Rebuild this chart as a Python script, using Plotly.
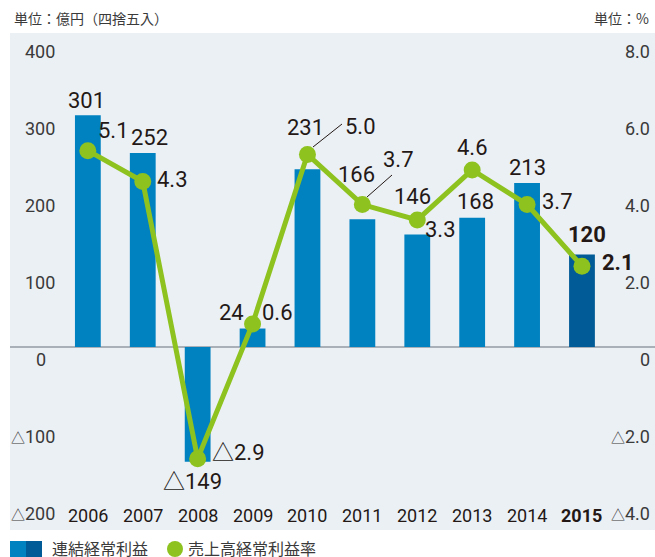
import plotly.graph_objects as go

years = ["2006", "2007", "2008", "2009", "2010", "2011", "2012", "2013", "2014", "2015"]
profit = [301, 252, -149, 24, 231, 166, 146, 168, 213, 120]
ratio = [5.1, 4.3, -2.9, 0.6, 5.0, 3.7, 3.3, 4.6, 3.7, 2.1]
left_ticks = [400, 300, 200, 100, 0, -100, -200]
right_ticks = [8.0, 6.0, 4.0, 2.0, 0, -2.0, -4.0]

BLUE = "#0081c0"
DARK = "#005b96"
GREEN = "#8dc21f"
TXT = "#231815"
FONT = "Liberation Sans Narrow, Roboto, Noto Sans CJK JP, sans-serif"
JFONT = "Noto Sans CJK JP, sans-serif"

L, R, T, B = 10, 655, 33, 530


def px_x(p):
    return (p - L) / (R - L)


def px_y(p):
    return (B - p) / (B - T)


def fmt(v, dec, small=False):
    s = f"{abs(v):.{dec}f}"
    if v < 0:
        tri = "<span style='font-size:14px'>△</span>" if small else "△"
        return tri + s
    return s


fig = go.Figure()
bar_colors = [BLUE] * (len(years) - 1) + [DARK]
fig.add_trace(go.Bar(x=years, y=profit, marker=dict(color=bar_colors, line=dict(width=0)),
                     width=0.47, name="連結経常利益", yaxis="y"))
fig.add_trace(go.Scatter(x=years, y=ratio, mode="lines+markers", yaxis="y2",
                         line=dict(color=GREEN, width=5),
                         marker=dict(color=GREEN, size=17), name="売上高経常利益率"))

ann = []
# left tick labels
for v in left_ticks:
    xa = px_x(48) if v == 0 else px_x(57)
    ann.append(dict(xref="paper", yref="y", x=xa, y=v, text=fmt(v, 0, True), showarrow=False,
                    xanchor="right", yanchor="middle", yshift=-12,
                    font=dict(family=FONT, size=18, color="#3a3a3a")))
for v in right_ticks:
    ann.append(dict(xref="paper", yref="y2", x=px_x(652), y=v,
                    text=("0" if v == 0 else fmt(v, 1, True)), showarrow=False,
                    xanchor="right", yanchor="middle", yshift=-12,
                    font=dict(family=FONT, size=18, color="#3a3a3a")))
# x labels
for i, yr in enumerate(years):
    t = f"<b>{yr}</b>" if i == len(years) - 1 else yr
    ann.append(dict(xref="x", yref="paper", x=i, y=px_y(515), text=t, showarrow=False,
                    xanchor="center", yanchor="middle",
                    font=dict(family=FONT, size=18, color=TXT)))

# bar labels offsets (xshift, yshift)
bar_off = [(-1, 15), (7, 15), (-5, -20), (-21, 16), (-2, 42), (-6, 45), (-5, 38), (3, 16), (0, 15), (5, 20)]
for i, v in enumerate(profit):
    t = fmt(v, 0)
    if i == len(years) - 1:
        t = f"<b>{t}</b>"
    ann.append(dict(xref="x", yref="y", x=i, y=v, text=t, showarrow=False,
                    xanchor="center", yanchor="middle", xshift=bar_off[i][0], yshift=bar_off[i][1],
                    font=dict(family=FONT, size=22, color=TXT)))
line_off = [(26, 20), (30, 2), (41, 6), (25, 11), (53, 28), (36, 45), (23, -10), (0, 22), (30, 3), (36, 4)]
for i, v in enumerate(ratio):
    t = fmt(v, 1)
    if i == len(years) - 1:
        t = f"<b>{t}</b>"
    ann.append(dict(xref="x", yref="y2", x=i, y=v, text=t, showarrow=False,
                    xanchor="center", yanchor="middle", xshift=line_off[i][0], yshift=line_off[i][1],
                    font=dict(family=FONT, size=22, color=TXT)))

# units
ann.append(dict(xref="paper", yref="paper", x=px_x(12), y=px_y(18), text="単位：億円（四捨五入）",
                showarrow=False, xanchor="left", yanchor="middle",
                font=dict(family=JFONT, size=14, color="#3a3a3a")))
ann.append(dict(xref="paper", yref="paper", x=px_x(651), y=px_y(18), text="単位：%",
                showarrow=False, xanchor="right", yanchor="middle",
                font=dict(family=JFONT, size=14, color="#3a3a3a")))
# legend texts
ann.append(dict(xref="paper", yref="paper", x=px_x(50), y=px_y(548), text="連結経常利益",
                showarrow=False, xanchor="left", yanchor="middle",
                font=dict(family=JFONT, size=16, color="#3a3a3a")))
ann.append(dict(xref="paper", yref="paper", x=px_x(186), y=px_y(548), text="売上高経常利益率",
                showarrow=False, xanchor="left", yanchor="middle",
                font=dict(family=JFONT, size=16, color="#3a3a3a")))

shapes = [
    dict(type="line", xref="paper", yref="y", x0=0, x1=1, y0=0, y1=0,
         line=dict(color="#a9b0b8", width=2), layer="below"),
    # leader lines
    dict(type="line", xref="paper", yref="paper", x0=px_x(313), y0=px_y(147), x1=px_x(342), y1=px_y(124),
         line=dict(color=TXT, width=1)),
    dict(type="line", xref="paper", yref="paper", x0=px_x(367), y0=px_y(197), x1=px_x(392), y1=px_y(175),
         line=dict(color=TXT, width=1)),
    # legend swatches
    dict(type="rect", xref="paper", yref="paper", x0=px_x(10), x1=px_x(26), y0=px_y(541), y1=px_y(558),
         fillcolor=BLUE, line=dict(width=0)),
    dict(type="rect", xref="paper", yref="paper", x0=px_x(26), x1=px_x(42), y0=px_y(541), y1=px_y(558),
         fillcolor=DARK, line=dict(width=0)),
    dict(type="circle", xref="paper", yref="paper", x0=px_x(167), x1=px_x(183), y0=px_y(541), y1=px_y(557),
         fillcolor=GREEN, line=dict(width=0)),
]

scale = 0.77
top_v = (347 - T) / scale
bot_v = -(B - 347) / scale

fig.update_layout(
    width=655, height=557,
    margin=dict(l=L, r=655 - R, t=T, b=557 - B),
    paper_bgcolor="white", plot_bgcolor="#ebf0f5",
    showlegend=False,
    bargap=0.5,
    xaxis=dict(type="category", range=[-1.418, 10.33], showticklabels=False, showgrid=False,
               zeroline=False, ticks=""),
    yaxis=dict(range=[bot_v, top_v], showticklabels=False, showgrid=False, zeroline=False, ticks=""),
    yaxis2=dict(range=[bot_v / 50, top_v / 50], overlaying="y", side="right", showticklabels=False,
                showgrid=False, zeroline=False, ticks=""),
    annotations=ann, shapes=shapes,
)

fig.write_html("out.html", config={"displayModeBar": False},
               post_script="document.body.style.margin='0';document.body.style.overflow='hidden';")
